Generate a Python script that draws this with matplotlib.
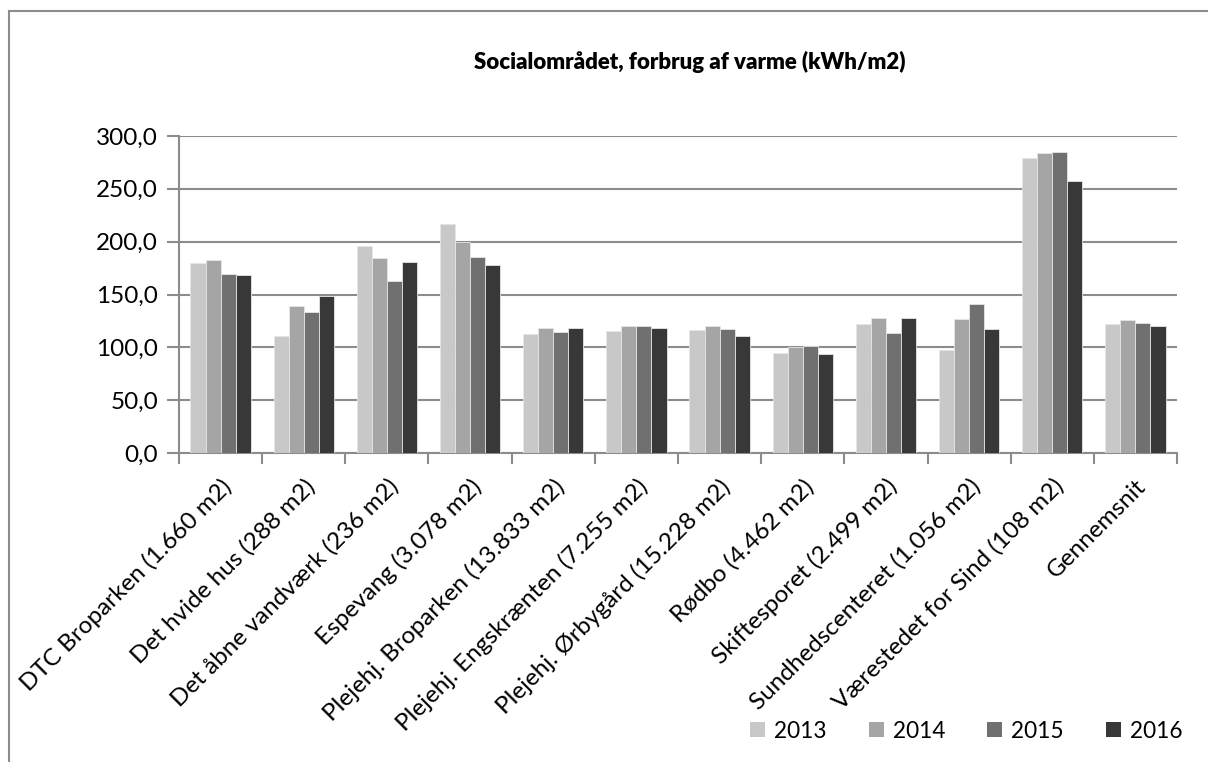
import matplotlib.pyplot as plt
import numpy as np
from matplotlib.patches import Patch
from matplotlib.lines import Line2D

plt.rcParams["font.family"] = ["Lato", "DejaVu Sans"]

categories = [
    "DTC Broparken (1.660 m2)",
    "Det hvide hus (288 m2)",
    "Det åbne vandværk (236 m2)",
    "Espevang (3.078 m2)",
    "Plejehj. Broparken (13.833 m2)",
    "Plejehj. Engskrænten (7.255 m2)",
    "Plejehj. Ørbygård (15.228 m2)",
    "Rødbo (4.462 m2)",
    "Skiftesporet (2.499 m2)",
    "Sundhedscenteret (1.056 m2)",
    "Værestedet for Sind (108 m2)",
    "Gennemsnit",
]
years = ["2013", "2014", "2015", "2016"]
v2013 = [179.4, 111.0, 195.6, 217.0, 112.9, 115.8, 116.1, 94.6, 122.4, 97.5, 278.9, 122.4]
v2014 = [182.3, 138.8, 184.9, 200.0, 118.0, 119.9, 119.9, 100.3, 127.4, 126.8, 283.9, 125.9]
v2015 = [169.4, 133.4, 162.8, 185.5, 114.2, 119.9, 117.4, 100.9, 113.9, 141.3, 284.9, 122.7]
v2016 = [168.5, 148.6, 181.1, 177.6, 118.0, 118.6, 111.0, 93.4, 127.4, 117.0, 257.1, 120.2]
colors = ["#c8c8c8", "#a5a5a5", "#707070", "#383838"]

fig = plt.figure(figsize=(12.08, 7.62), dpi=100)
ax = fig.add_axes([179 / 1208, 1 - 453 / 762, 998 / 1208, 317 / 762])

x = np.arange(len(categories))
w = 0.181
for i, (vals, c, lab) in enumerate(zip([v2013, v2014, v2015, v2016], colors, years)):
    ax.bar(x + (i - 1.5) * w, vals, width=w, color=c, edgecolor="#e6e6e6",
           linewidth=0.6, label=lab, zorder=3)

ax.set_xlim(-0.5, len(categories) - 0.5)
ax.set_ylim(0, 300)
ax.set_yticks(np.arange(0, 301, 50))
ax.set_yticklabels([f"{v:.1f}".replace(".", ",") for v in np.arange(0, 301, 50)], fontsize=17.5)
ax.yaxis.grid(True, color="#8c8c8c", linewidth=1.5, zorder=0)
ax.tick_params(axis="y", length=9, width=1.5, color="#8c8c8c", pad=6)

ax.set_xticks(x)
ax.set_xticklabels(categories, rotation=45, ha="right", rotation_mode="anchor", fontsize=17.5)
ax.tick_params(axis="x", which="major", length=0, pad=16)
ax.set_xticks(np.arange(-0.5, len(categories)), minor=True)
ax.tick_params(axis="x", which="minor", length=8, width=1.5, color="#8c8c8c")

for s in ["top", "right"]:
    ax.spines[s].set_visible(False)
for s in ["left", "bottom"]:
    ax.spines[s].set_color("#8c8c8c")
    ax.spines[s].set_linewidth(1.5)

fig.text(690 / 1208, 1 - 62 / 762, "Socialområdet, forbrug af varme (kWh/m2)",
         ha="center", va="center", fontsize=16, fontweight="heavy")

handles = [Patch(facecolor=c) for c in colors]
fig.legend(handles, years, loc="center right", bbox_to_anchor=(1198 / 1208, 1 - 731 / 762),
           ncol=4, frameon=False, fontsize=16.3, handlelength=0.66, handleheight=0.66,
           handletextpad=0.4, columnspacing=1.85, borderpad=0.2)

# chart frame (left and top edges visible)
fig.add_artist(Line2D([9 / 1208, 9 / 1208], [0, 1 - 11 / 762], transform=fig.transFigure,
                      color="#8c8c8c", linewidth=1.5))
fig.add_artist(Line2D([9 / 1208, 1], [1 - 11 / 762, 1 - 11 / 762], transform=fig.transFigure,
                      color="#8c8c8c", linewidth=1.5))

fig.savefig("out.png", dpi=100)
